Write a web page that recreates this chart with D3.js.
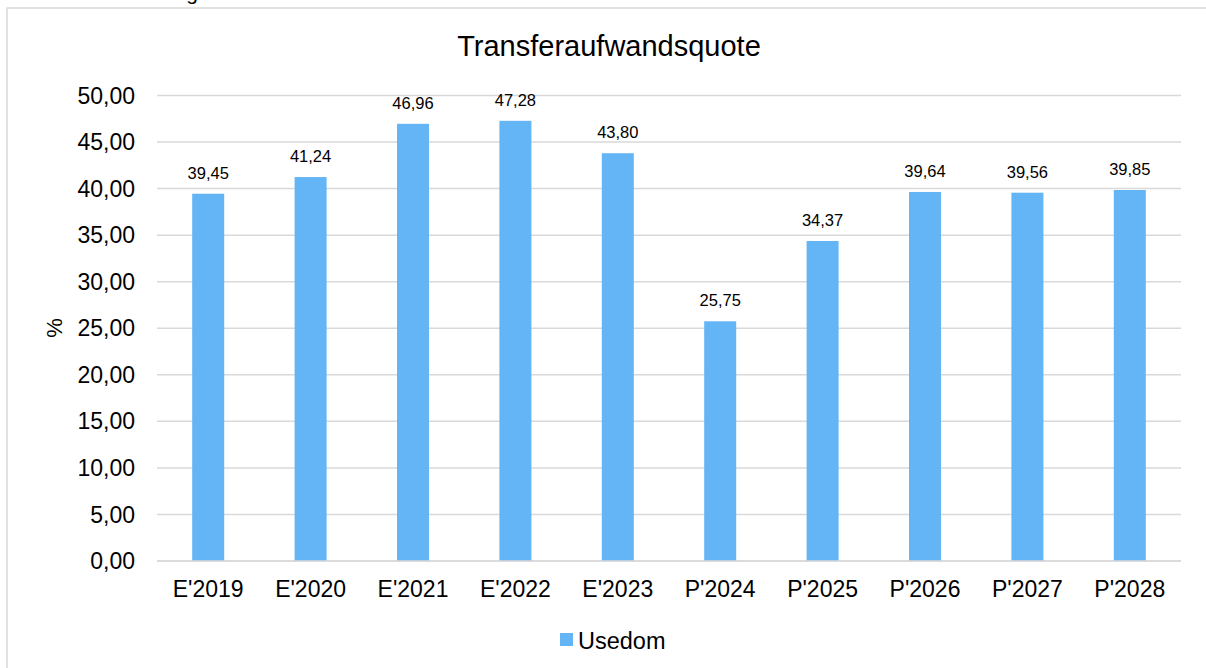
<!DOCTYPE html>
<html>
<head>
<meta charset="utf-8">
<script src="https://cdn.jsdelivr.net/npm/d3@7"></script>
<style>
  body { margin: 0; background: #fff; }
  svg { display: block; font-family: "Liberation Sans", Arial, sans-serif; }
</style>
</head>
<body>
<svg id="chart" width="1206" height="668"></svg>
<script>
// chart data
var categories = ["E'2019", "E'2020", "E'2021", "E'2022", "E'2023", "P'2024", "P'2025", "P'2026", "P'2027", "P'2028"];
var values = [39.45, 41.24, 46.96, 47.28, 43.80, 25.75, 34.37, 39.64, 39.56, 39.85];
var yTicks = [0, 5, 10, 15, 20, 25, 30, 35, 40, 45, 50];
var seriesName = "Usedom";
var chartTitle = "Transferaufwandsquote";

var svg = d3.select("#chart");
var barColor = "#64b5f6";
var gridColor = "#d9d9d9";

var fmt = function(v) { return d3.format(".2f")(v).replace(".", ","); };

// outer frame (cut off at right / bottom)
svg.append("rect")
    .attr("x", 7).attr("y", 8)
    .attr("width", 1210).attr("height", 680)
    .attr("fill", "none")
    .attr("stroke", gridColor)
    .attr("stroke-width", 1.5);

// leftover caption above the frame, only descender visible
svg.append("text")
    .attr("x", 198).attr("y", -0.5)
    .attr("text-anchor", "end")
    .attr("font-size", 21)
    .attr("fill", "#000")
    .text("Abbildung");

var x = d3.scaleBand()
    .domain(categories)
    .range([157, 1181])
    .paddingInner(0.6875)
    .paddingOuter(0.34375);

var y = d3.scaleLinear()
    .domain([0, 50])
    .range([561, 95.5]);

// gridlines
svg.append("g")
  .selectAll("line")
  .data(yTicks)
  .enter().append("line")
    .attr("x1", 157).attr("x2", 1181)
    .attr("y1", function(d) { return y(d); })
    .attr("y2", function(d) { return y(d); })
    .attr("stroke", gridColor)
    .attr("stroke-width", 1.5);

// y tick labels
svg.append("g")
  .selectAll("text")
  .data(yTicks)
  .enter().append("text")
    .attr("x", 135)
    .attr("y", function(d) { return y(d); })
    .attr("dy", "0.35em")
    .attr("text-anchor", "end")
    .attr("font-size", 23)
    .attr("fill", "#000")
    .text(fmt);

// bars
svg.append("g")
  .selectAll("rect")
  .data(values)
  .enter().append("rect")
    .attr("x", function(d, i) { return x(categories[i]); })
    .attr("y", function(d) { return y(d); })
    .attr("width", x.bandwidth())
    .attr("height", function(d) { return y(0) - y(d); })
    .attr("fill", barColor);

// axis line on top of bars
svg.append("line")
    .attr("x1", 157).attr("x2", 1181)
    .attr("y1", y(0)).attr("y2", y(0))
    .attr("stroke", gridColor)
    .attr("stroke-width", 1.5);

// data labels
svg.append("g")
  .selectAll("text")
  .data(values)
  .enter().append("text")
    .attr("x", function(d, i) { return x(categories[i]) + x.bandwidth() / 2; })
    .attr("y", function(d) { return y(d) - 15; })
    .attr("text-anchor", "middle")
    .attr("font-size", 16.5)
    .attr("fill", "#000")
    .text(fmt);

// x labels
svg.append("g")
  .selectAll("text")
  .data(categories)
  .enter().append("text")
    .attr("x", function(d) { return x(d) + x.bandwidth() / 2; })
    .attr("y", 597)
    .attr("text-anchor", "middle")
    .attr("font-size", 23)
    .attr("fill", "#000")
    .text(function(d) { return d; });

// title
svg.append("text")
    .attr("x", 609).attr("y", 56)
    .attr("text-anchor", "middle")
    .attr("font-size", 29)
    .attr("fill", "#000")
    .text(chartTitle);

// y axis title
svg.append("text")
    .attr("transform", "translate(62,328) rotate(-90)")
    .attr("text-anchor", "middle")
    .attr("font-size", 22)
    .attr("fill", "#000")
    .text("%");

// legend
svg.append("rect")
    .attr("x", 560).attr("y", 633)
    .attr("width", 13).attr("height", 13)
    .attr("fill", barColor);
svg.append("text")
    .attr("x", 578).attr("y", 649)
    .attr("font-size", 23.5)
    .attr("fill", "#000")
    .text(seriesName);
</script>
</body>
</html>
